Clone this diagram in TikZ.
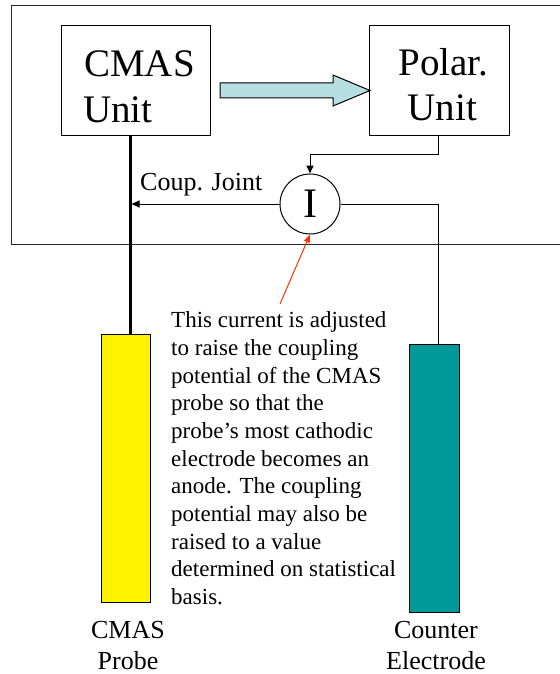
\documentclass[tikz,border=0pt]{standalone}
\usepackage{fontspec}
\setmainfont{Liberation Serif}
\usetikzlibrary{arrows.meta}
\definecolor{arrowfill}{RGB}{183,223,227}
\definecolor{teal2}{RGB}{0,153,153}
\definecolor{redarrow}{RGB}{255,51,0}
\definecolor{framegray}{RGB}{40,40,40}
\begin{document}
\begin{tikzpicture}[x=1pt,y=-1pt,
  unitbox/.style={draw, line width=1pt, minimum width=#1, minimum height=109pt, inner sep=0pt},
  bigtext/.style={font=\fontsize{39}{45}\selectfont, inner sep=0pt},
  labeltext/.style={font=\fontsize{26}{31}\selectfont, inner sep=0pt, align=center},
  thin/.style={line width=1pt},
  tip/.style={-{Triangle[length=8pt,width=7pt]}},
  electrode/.style={draw, line width=1pt, minimum width=#1, minimum height=268pt, inner sep=0pt}]
\useasboundingbox (0,0) rectangle (559,674);
% outer frame
\draw[framegray, line width=1pt] (570,6) -- (11,6) -- (11,244) -- (570,244);
% units
\node[unitbox=149pt] (cmas) at (135.5,80.5) {};
\node[unitbox=140pt] (polar) at (439,80.5) {};
\node[bigtext, anchor=base west] (cmast1) at (84,77) {CMAS};
\node[bigtext, anchor=base west] (cmast2) at (83,122) {Unit};
\node[bigtext, anchor=base] (polt1) at (443.5,76) {Polar.};
\node[bigtext, anchor=base] (polt2) at (442.5,121) {Unit};
% block arrow
\draw[fill=arrowfill, line width=1pt, line join=miter]
  (220,83) -- (333,83) -- (333,75) -- (370,90.5) -- (333,106) -- (333,98) -- (220,98) -- cycle;
% current source
\node[draw, circle, line width=1pt, minimum size=60pt, inner sep=0pt,
      font=\fontsize{42}{46}\selectfont] (src) at (310,204) {I};
% electrodes
\node[electrode=49pt, fill=yellow] (probe) at (125.5,468) {};
\node[electrode=50pt, fill=teal2] (counter) at (434,478) {};
% coordinates
\coordinate (jx) at (130,204);
\coordinate (px) at (438.5,154);
% thick lead
\draw[line width=3pt] (cmas.south -| jx) -- (probe.north -| jx);
% polar to source
\draw[thin, tip] (polar.south -| px) -- (px) -- (px -| src) -- (src.north);
% source to joint
\draw[thin, tip] (src.west) -- ([xshift=1.5pt]jx);
% source to counter electrode
\draw[thin] (src.east) -- (src.east -| px) -- (counter.north -| px);
% label coup joint
\node[font=\fontsize{26}{31}\selectfont, inner sep=0pt, anchor=base west] (coup) at (140,190) {Coup. Joint};
% explanation text
\node[font=\fontsize{23}{27.7}\selectfont, inner sep=0pt, align=left, anchor=north west] (expl) at (171,311.5)
{This current is adjusted\\to raise the coupling\\potential of the CMAS\\probe so that the\\probe’s most cathodic\\electrode becomes an\\anode. The coupling\\potential may also be\\raised to a value\\determined on statistical\\basis.};
\coordinate (rtail) at (280,304);
\draw[redarrow, line width=1pt, -{Triangle[length=8pt,width=6pt]}] (rtail) -- (src.south);
% bottom labels
\node[labeltext, anchor=base] (probel) at (128,638) {CMAS};
\node[labeltext, anchor=base] (probel2) at (128,669) {Probe};
\node[labeltext, anchor=base] (counterl) at (436,638) {Counter};
\node[labeltext, anchor=base] (counterl2) at (436,669) {Electrode};
\end{tikzpicture}
\end{document}
